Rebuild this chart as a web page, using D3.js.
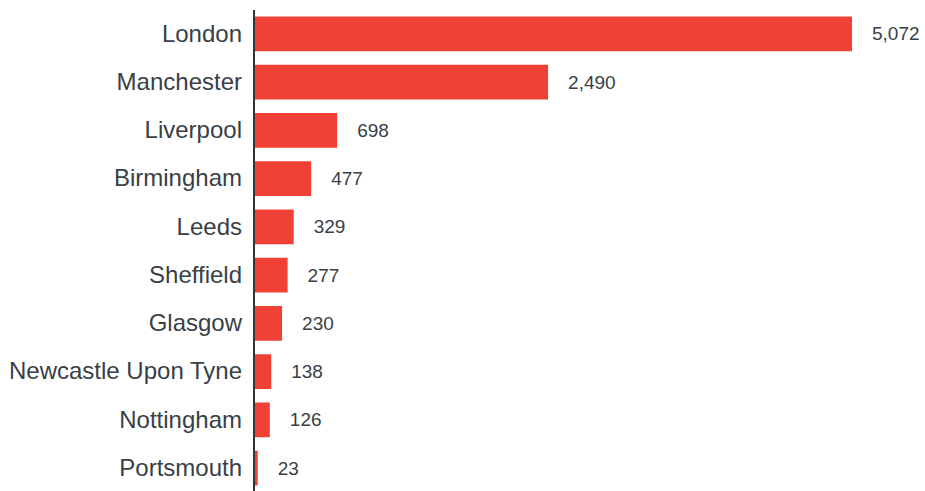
<!DOCTYPE html>
<html>
<head>
<meta charset="utf-8">
<script src="https://cdn.jsdelivr.net/npm/d3@7"></script>
<style>
  html, body { margin: 0; padding: 0; background: #ffffff; }
  svg { display: block; }
</style>
</head>
<body>
<svg id="chart" width="925" height="491"></svg>
<script>
// Cities and their counts, largest first
const cities = ["London", "Manchester", "Liverpool", "Birmingham", "Leeds", "Sheffield",
                "Glasgow", "Newcastle Upon Tyne", "Nottingham", "Portsmouth"];
const counts = [5072, 2490, 698, 477, 329, 277, 230, 138, 126, 23];

const width = 925, height = 491;
const svg = d3.select("#chart");

const rows = cities.map((c, i) => ({ city: c, value: counts[i] }));

const x = d3.scaleLinear()
  .domain([0, d3.max(counts)])
  .range([255, 852]);

const y = d3.scaleBand()
  .domain(cities)
  .range([3, 499])
  .paddingInner(0.28)
  .paddingOuter(0.28);

const fmt = d3.format(",");
const textColor = "#383f46";
const font = "'Liberation Sans', Arial, Helvetica, sans-serif";

// Bars
svg.append("g")
  .selectAll("rect")
  .data(rows)
  .join("rect")
  .attr("x", x(0))
  .attr("y", d => y(d.city))
  .attr("width", d => x(d.value) - x(0))
  .attr("height", y.bandwidth())
  .attr("fill", "#ef4136");

// Category labels
svg.append("g")
  .selectAll("text")
  .data(rows)
  .join("text")
  .attr("x", 242)
  .attr("y", d => y(d.city) + y.bandwidth() / 2)
  .attr("dy", "0.32em")
  .attr("text-anchor", "end")
  .attr("font-family", font)
  .attr("font-size", 24)
  .attr("fill", textColor)
  .text(d => d.city);

// Value labels
svg.append("g")
  .selectAll("text")
  .data(rows)
  .join("text")
  .attr("x", d => x(d.value) + 20)
  .attr("y", d => y(d.city) + y.bandwidth() / 2)
  .attr("dy", "0.34em")
  .attr("font-family", font)
  .attr("font-size", 19)
  .attr("fill", textColor)
  .text(d => fmt(d.value));

// Vertical baseline
svg.append("line")
  .attr("x1", 254).attr("x2", 254)
  .attr("y1", 10).attr("y2", height)
  .attr("stroke", "#30353b")
  .attr("stroke-width", 2);
</script>
</body>
</html>
